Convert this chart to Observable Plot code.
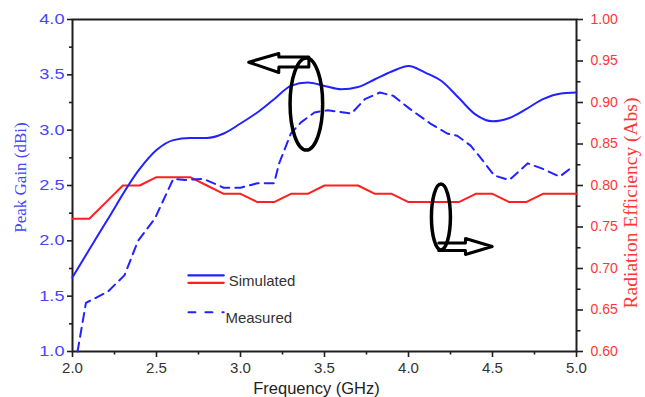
<!DOCTYPE html>
<html><head><meta charset="utf-8">
<script src="https://cdn.jsdelivr.net/npm/d3@7"></script>
<script src="https://cdn.jsdelivr.net/npm/@observablehq/plot@0.6"></script>
<style>
html,body{margin:0;padding:0;background:#fff}
#chart{width:645px;height:397px;overflow:hidden}
</style>
</head><body><div id="chart"></div>
<script>
// ---- data ----
const freqSim = [2.0, 2.2, 2.4, 2.5, 2.6, 2.7, 2.8, 2.9, 3.0, 3.1, 3.2, 3.3, 3.4, 3.5, 3.6, 3.7, 3.8, 3.9, 4.0, 4.1, 4.2, 4.3, 4.4, 4.5, 4.6, 4.7, 4.8, 4.9, 5.0];
const gainSim = [1.67, 2.17, 2.65, 2.82, 2.91, 2.93, 2.93, 2.97, 3.06, 3.16, 3.28, 3.40, 3.43, 3.40, 3.37, 3.39, 3.46, 3.53, 3.58, 3.52, 3.44, 3.29, 3.14, 3.08, 3.11, 3.19, 3.28, 3.33, 3.34];

const freqMeas = [2.03, 2.08, 2.21, 2.31, 2.39, 2.49, 2.60, 2.67, 2.78, 2.90, 3.00, 3.10, 3.20, 3.23, 3.30, 3.36, 3.44, 3.52, 3.66, 3.74, 3.83, 3.91, 4.01, 4.13, 4.23, 4.29, 4.37, 4.44, 4.51, 4.60, 4.71, 4.80, 4.90, 4.96];
const gainMeas = [1.00, 1.44, 1.54, 1.69, 2.00, 2.20, 2.56, 2.55, 2.56, 2.48, 2.48, 2.52, 2.52, 2.70, 2.97, 3.07, 3.16, 3.18, 3.15, 3.28, 3.34, 3.31, 3.19, 3.06, 2.97, 2.95, 2.86, 2.73, 2.59, 2.55, 2.70, 2.65, 2.58, 2.65];

const freqEff = [2.0, 2.1, 2.2, 2.3, 2.4, 2.5, 2.6, 2.7, 2.8, 2.9, 3.0, 3.1, 3.2, 3.3, 3.4, 3.5, 3.6, 3.7, 3.8, 3.9, 4.0, 4.1, 4.2, 4.3, 4.4, 4.5, 4.6, 4.7, 4.8, 4.9, 5.0];
const effSim  = [0.76, 0.76, 0.78, 0.80, 0.80, 0.81, 0.81, 0.81, 0.80, 0.79, 0.79, 0.78, 0.78, 0.79, 0.79, 0.80, 0.80, 0.80, 0.79, 0.79, 0.78, 0.78, 0.78, 0.78, 0.79, 0.79, 0.78, 0.78, 0.79, 0.79, 0.79];

const xTicks = [2.0, 2.5, 3.0, 3.5, 4.0, 4.5, 5.0];
const xMinor = [2.25, 2.75, 3.25, 3.75, 4.25, 4.75];
const gainTicks = [1.0, 1.5, 2.0, 2.5, 3.0, 3.5, 4.0];
const gainMinor = [1.25, 1.75, 2.25, 2.75, 3.25, 3.75];
const effTicks = [0.60, 0.65, 0.70, 0.75, 0.80, 0.85, 0.90, 0.95, 1.00];
const effMinor = [0.625, 0.675, 0.725, 0.775, 0.825, 0.875, 0.925, 0.975];

const seriesNames = ["Simulated", "Measured"];
const xTitle = "Frequency (GHz)";
const yLeftTitle = "Peak Gain (dBi)";
const yRightTitle = "Radiation Efficiency (Abs)";

// ---- annotations (hand-drawn ellipses and block arrows, data units) ----
const ellipses = [
  {f: 3.395, g: 3.232, rf: 0.097, rg: 0.416},
  {f: 4.196, g: 2.211, rf: 0.0565, rg: 0.298}
];
const arrowLeft = [
  {f: 3.049, g: 3.614}, {f: 3.228, g: 3.693}, {f: 3.228, g: 3.661}, {f: 3.407, g: 3.661},
  {f: 3.407, g: 3.571}, {f: 3.228, g: 3.571}, {f: 3.228, g: 3.521}, {f: 3.049, g: 3.614}
];
const arrowRight = [
  {f: 4.180, g: 1.980}, {f: 4.339, g: 1.980}, {f: 4.339, g: 2.021}, {f: 4.498, g: 1.949},
  {f: 4.339, g: 1.877}, {f: 4.339, g: 1.913}, {f: 4.180, g: 1.913}
];
const legendCfg = {x1: 2.69, x2: 2.90, xText: 2.93, ySim: 1.687, yRed: 1.621, ySimText: 1.635, yMeas: 1.355, yMeasText: 1.305};

// ---- styles ----
const BLUE = "#2222ff", RED = "#ff1f1f", BLUE_TXT = "#4646ff", RED_TXT = "#ff3636", AXIS = "#1e1e1e", TXT = "#333333";
const SANS = "'Liberation Sans', Arial, sans-serif";
const SERIF = "'Liberation Serif', 'Times New Roman', serif";

// dual-axis mapping: efficiency -> gain coordinates
const toG = e => 1 + (e - 0.6) * 7.5;
const fromG = g => 0.6 + (g - 1) / 7.5;

const simRows = freqSim.map((f, i) => ({f, g: gainSim[i]}));
const measRows = freqMeas.map((f, i) => ({f, g: gainMeas[i]}));
const effRows = freqEff.map((f, i) => ({f, e: effSim[i]}));

function ellipseMark(el) {
  return (index, scales) => {
    const cx = scales.x(el.f), cy = scales.y(el.g);
    const rx = Math.abs(scales.x(el.f + el.rf) - cx);
    const ry = Math.abs(scales.y(el.g + el.rg) - cy);
    const node = document.createElementNS("http://www.w3.org/2000/svg", "ellipse");
    node.setAttribute("cx", cx); node.setAttribute("cy", cy);
    node.setAttribute("rx", rx); node.setAttribute("ry", ry);
    node.setAttribute("fill", "none"); node.setAttribute("stroke", "#000");
    node.setAttribute("stroke-width", 3.5);
    return node;
  };
}

const plot = Plot.plot({
  width: 645, height: 397,
  marginLeft: 72, marginRight: 69, marginTop: 19, marginBottom: 46,
  style: {fontFamily: SANS, background: "white", overflow: "visible"},
  x: {domain: [2, 5]},
  y: {domain: [1, 4]},
  marks: [
    // bottom axis
    Plot.axisX(xTicks, {tickSize: 6, tickPadding: 5, fontSize: 15, stroke: AXIS, fill: TXT, strokeWidth: 1.6, tickFormat: d => d.toFixed(1), label: null}),
    Plot.axisX(xMinor, {tickSize: 3.5, stroke: AXIS, strokeWidth: 1.6, tickFormat: () => "", label: null}),
    // left axis (gain)
    Plot.axisY(gainTicks, {anchor: "left", tickSize: 5, tickPadding: 3, fontSize: 14, stroke: AXIS, fill: BLUE_TXT, strokeWidth: 1.6, tickFormat: d => d.toFixed(1), label: null}),
    Plot.axisY(gainMinor, {anchor: "left", tickSize: 3, stroke: AXIS, strokeWidth: 1.6, tickFormat: () => "", label: null}),
    // right axis (efficiency)
    Plot.axisY(effTicks.map(toG), {anchor: "right", tickSize: 6, tickPadding: 8, fontSize: 14, stroke: AXIS, fill: RED_TXT, strokeWidth: 1.6, tickFormat: g => fromG(g).toFixed(2), label: null}),
    Plot.axisY(effMinor.map(toG), {anchor: "right", tickSize: 3.5, stroke: AXIS, strokeWidth: 1.6, tickFormat: () => "", label: null}),
    Plot.frame({stroke: AXIS, strokeWidth: 2}),
    // axis titles
    Plot.text([xTitle], {text: d => d, frameAnchor: "bottom", dx: -8, dy: 37, lineAnchor: "middle", fontSize: 16.5, fill: "#222", fontFamily: SANS}),
    Plot.text([yLeftTitle], {text: d => d, frameAnchor: "left", dx: -51.5, dy: -8, rotate: -90, lineAnchor: "middle", textAnchor: "middle", fontSize: 17, fill: BLUE_TXT, fontFamily: SERIF}),
    Plot.text([yRightTitle], {text: d => d, frameAnchor: "right", dx: 54, dy: 17.5, rotate: -90, lineAnchor: "middle", textAnchor: "middle", fontSize: 19.5, fill: RED_TXT, fontFamily: SERIF}),
    // data
    Plot.line(effRows, {x: "f", y: d => toG(d.e), stroke: RED, strokeWidth: 2}),
    Plot.line(simRows, {x: "f", y: "g", stroke: BLUE, strokeWidth: 2, curve: "monotone-x"}),
    Plot.line(measRows, {x: "f", y: "g", stroke: BLUE, strokeWidth: 2, strokeDasharray: "9,6"}),
    // legend
    Plot.line([{f: legendCfg.x1, g: legendCfg.ySim}, {f: legendCfg.x2, g: legendCfg.ySim}], {x: "f", y: "g", stroke: BLUE, strokeWidth: 2.2}),
    Plot.line([{f: legendCfg.x1, g: legendCfg.yRed}, {f: legendCfg.x2, g: legendCfg.yRed}], {x: "f", y: "g", stroke: RED, strokeWidth: 2.2}),
    Plot.line([{f: legendCfg.x1, g: legendCfg.yMeas}, {f: legendCfg.x2, g: legendCfg.yMeas}], {x: "f", y: "g", stroke: BLUE, strokeWidth: 2, strokeDasharray: "7,10"}),
    Plot.text([seriesNames[0]], {text: d => d, x: () => legendCfg.xText, y: () => legendCfg.ySimText, textAnchor: "start", lineAnchor: "middle", fontSize: 15, fill: TXT}),
    Plot.text([seriesNames[1]], {text: d => d, x: () => legendCfg.xText - 0.02, y: () => legendCfg.yMeasText, textAnchor: "start", lineAnchor: "middle", fontSize: 15, fill: TXT}),
    // annotations
    ellipseMark(ellipses[0]),
    ellipseMark(ellipses[1]),
    Plot.line(arrowLeft, {x: "f", y: "g", stroke: "#000", strokeWidth: 3, strokeLinejoin: "round"}),
    Plot.line(arrowRight, {x: "f", y: "g", stroke: "#000", strokeWidth: 3, strokeLinejoin: "round"})
  ]
});

// horizontally stretch the left y tick labels as in the reference
function stretchText(t, s) {
  const tr = t.getAttribute("transform");
  if (tr) t.setAttribute("transform", tr + ` scale(${s},1)`);
  else {
    const x = +(t.getAttribute("x") || 0);
    t.setAttribute("transform", `translate(${x},0) scale(${s},1) translate(${-x},0)`);
  }
}
plot.querySelectorAll('g[aria-label="y-axis tick label"]').forEach(g => {
  if (g.getAttribute("text-anchor") === "end") g.querySelectorAll("text").forEach(t => stretchText(t, 1.3));
});

document.getElementById("chart").append(plot);
</script>
</body></html>
